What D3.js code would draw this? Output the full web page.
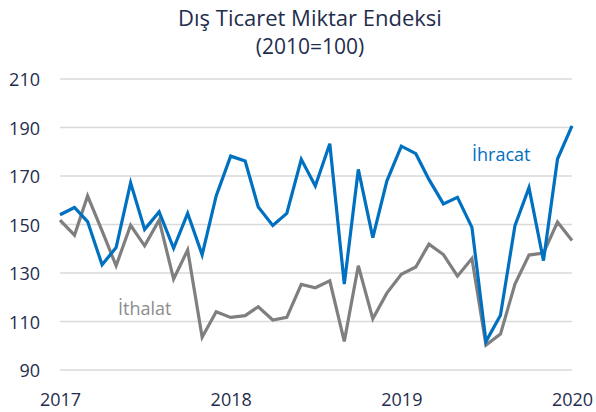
<!DOCTYPE html>
<html>
<head>
<meta charset="utf-8">
<script src="https://cdn.jsdelivr.net/npm/d3@7"></script>
<style>
  body { margin: 0; background: #fff; }
  svg { display: block; font-family: "Open Sans", "Noto Sans", sans-serif; }
</style>
</head>
<body>
<svg id="chart" width="596" height="412"></svg>
<script>
// Monatswerte Jan 2017 .. Jan 2020
const ihracat = [154, 157, 151.2, 133.4, 140.5, 167.2, 148, 155.2, 140.2, 154.6, 137.5, 161.8,
  178.2, 176.2, 157.2, 149.6, 154.6, 176.9, 165.9, 183.3, 125.4, 172.7, 144.6, 167.9,
  182.3, 179.2, 168.6, 158.5, 161.2, 148.8, 101.7, 112.6, 149.5, 165.2, 135.1, 177, 190.7];
const ithalat = [151.8, 145.6, 161.8, 147.4, 133, 149.7, 141.2, 151.8, 127.5, 139.5, 103.5, 114,
  111.7, 112.4, 116.1, 110.6, 111.7, 125.3, 123.9, 126.8, 101.8, 133, 111.1, 121.7,
  129.5, 132.5, 141.9, 137.6, 128.7, 136, 100.3, 104.8, 125.4, 137.4, 138.2, 151, 143.4];
const yTicks = [90, 110, 130, 150, 170, 190, 210];
const xTicks = [2017, 2018, 2019, 2020];

const svg = d3.select("#chart");
const textColor = "#1f2d4d";

const x = d3.scaleTime()
  .domain([new Date(2017, 0, 1), new Date(2020, 0, 1)])
  .range([60, 572]);
const y = d3.scaleLinear().domain([90, 210]).range([370, 79]);

const monthDate = (i) => new Date(2017, i, 1);

// Titel
svg.append("text")
  .attr("x", 310).attr("y", 26)
  .attr("text-anchor", "middle")
  .attr("font-size", 22)
  .attr("fill", textColor)
  .text("Dış Ticaret Miktar Endeksi");
svg.append("text")
  .attr("x", 310).attr("y", 54)
  .attr("text-anchor", "middle")
  .attr("font-size", 21)
  .attr("fill", textColor)
  .text("(2010=100)");

// Gitterlinien
svg.append("g")
  .selectAll("line")
  .data(yTicks)
  .join("line")
  .attr("x1", 60).attr("x2", 572)
  .attr("y1", (d) => y(d)).attr("y2", (d) => y(d))
  .attr("stroke", "#d9d9d9")
  .attr("stroke-width", 1.5);

// Y-Achse
const yAxis = svg.append("g")
  .attr("transform", "translate(40,1)")
  .call(d3.axisLeft(y).tickValues(yTicks).tickSize(0).tickPadding(0));
yAxis.select(".domain").remove();
yAxis.selectAll("text")
  .attr("font-size", 18)
  .attr("font-family", "Open Sans, sans-serif")
  .attr("fill", textColor);

// X-Achse
const xAxis = svg.append("g")
  .attr("transform", "translate(0,393)")
  .call(d3.axisBottom(x)
    .tickValues(xTicks.map((yr) => new Date(yr, 0, 1)))
    .tickFormat(d3.timeFormat("%Y"))
    .tickSize(0).tickPadding(0));
xAxis.select(".domain").remove();
xAxis.selectAll("text")
  .attr("font-size", 18)
  .attr("font-family", "Open Sans, sans-serif")
  .attr("fill", textColor);

// Linien
const line = d3.line()
  .x((d, i) => x(monthDate(i)))
  .y((d) => y(d));

svg.append("path")
  .datum(ithalat)
  .attr("d", line)
  .attr("fill", "none")
  .attr("stroke", "#7f7f7f")
  .attr("stroke-width", 3.2);

svg.append("path")
  .datum(ihracat)
  .attr("d", line)
  .attr("fill", "none")
  .attr("stroke", "#0070c0")
  .attr("stroke-width", 3.2);

// Beschriftungen
svg.append("text")
  .attr("x", 472).attr("y", 161)
  .attr("font-size", 18)
  .attr("fill", "#0070c0")
  .text("İhracat");
svg.append("text")
  .attr("x", 118).attr("y", 315)
  .attr("font-size", 18)
  .attr("fill", "#8c8c8c")
  .text("İthalat");
</script>
</body>
</html>
